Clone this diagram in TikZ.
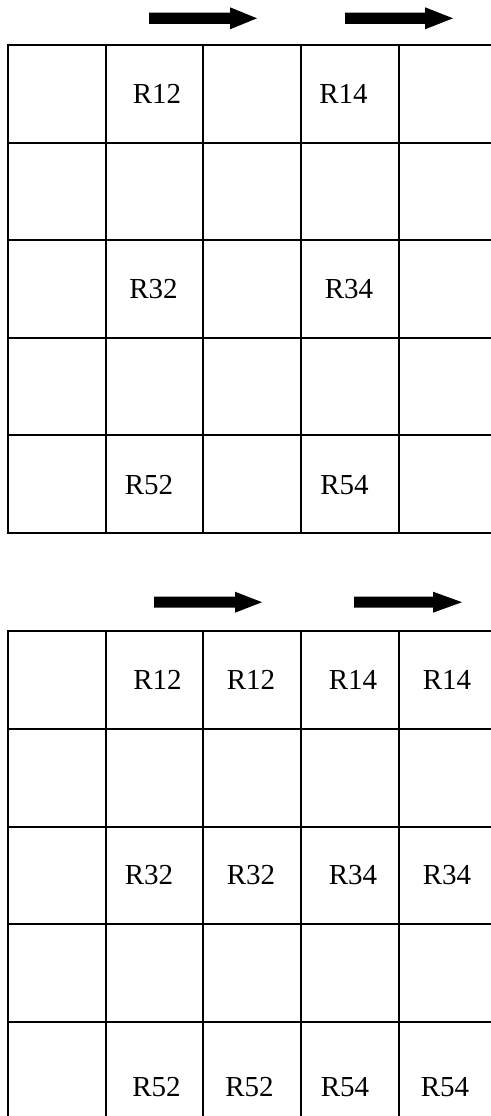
\documentclass[tikz,border=0pt]{standalone}
\usepackage{fontspec}
\setmainfont{Liberation Serif}
\begin{document}
\begin{tikzpicture}[x=1pt,y=-1pt,
  gridline/.style={line width=2.5pt, line cap=rect},
  lbl/.style={font=\fontsize{29}{34}\selectfont, inner sep=0pt, anchor=center},
  blockarrow/.style={fill=black}]
\useasboundingbox (0,0) rectangle (490,1116);
% ---- top grid ----
\foreach \y in {45,143,240,338,435,533}
  \draw[gridline] (8,\y) -- (490,\y);
\foreach \x in {8,106,203,301,399}
  \draw[gridline] (\x,45) -- (\x,533);
% ---- bottom grid ----
\foreach \y in {631,729,827,924,1022}
  \draw[gridline] (8,\y) -- (490,\y);
\foreach \x in {8,106,203,301,399}
  \draw[gridline] (\x,631) -- (\x,1116);
% ---- block arrows: shaft start, head start, tip, centre y, shaft half, head half ----
\foreach \a/\b/\c/\m/\s/\h in {149/230/257/18.3/5.6/11, 345/425/453/18.3/5.6/11,
                               154/235/262/602.2/5.5/10.5, 354/433/462/602.2/5.5/10.5}
  \fill[blockarrow] (\a,\m-\s) -- (\b,\m-\s) -- (\b,\m-\h) -- (\c,\m) -- (\b,\m+\h) -- (\b,\m+\s) -- (\a,\m+\s) -- cycle;
% ---- top labels ----
\node[lbl] (t12) at (157,94) {R12};
\node[lbl] (t14) at (343.5,94) {R14};
\node[lbl] (t32) at (153.5,289.5) {R32};
\node[lbl] (t34) at (349,289.5) {R34};
\node[lbl] (t52) at (149,485.5) {R52};
\node[lbl] (t54) at (344.5,485.5) {R54};
% ---- bottom labels ----
\node[lbl] (b12a) at (157.5,680) {R12};
\node[lbl] (b12b) at (251,680) {R12};
\node[lbl] (b14a) at (353,680) {R14};
\node[lbl] (b14b) at (447,680) {R14};
\node[lbl] (b32a) at (149,875) {R32};
\node[lbl] (b32b) at (251,875) {R32};
\node[lbl] (b34a) at (353,875) {R34};
\node[lbl] (b34b) at (447,875) {R34};
\node[lbl] (b52a) at (156.5,1087) {R52};
\node[lbl] (b52b) at (249.5,1087) {R52};
\node[lbl] (b54a) at (345,1087) {R54};
\node[lbl] (b54b) at (445,1087) {R54};
\end{tikzpicture}
\end{document}
